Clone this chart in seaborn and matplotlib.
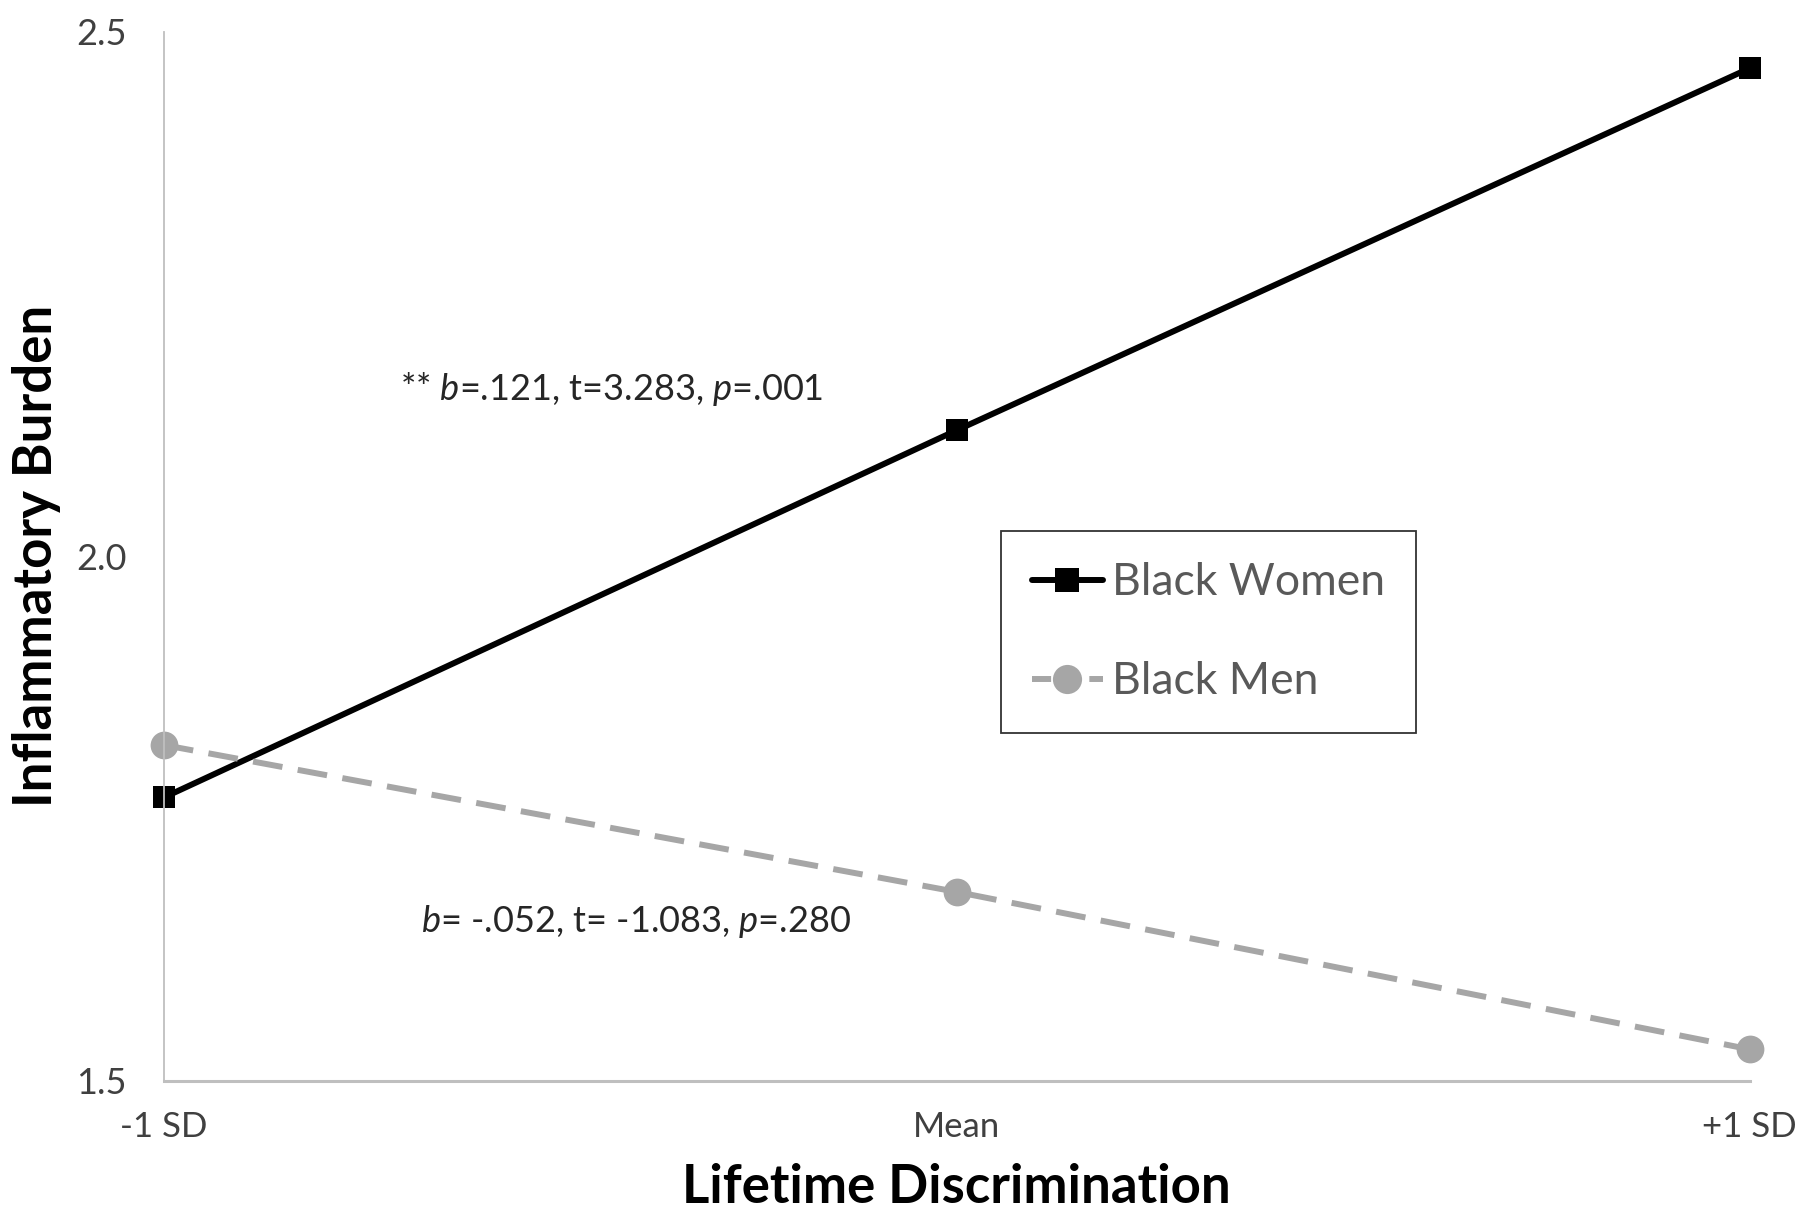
import pandas as pd
import matplotlib
matplotlib.use("Agg")
import matplotlib.pyplot as plt
import seaborn as sns

# values
levels = ["-1 SD", "Mean", "+1 SD"]
women = [1.77, 2.12, 2.465]
men = [1.82, 1.68, 1.53]
groups = ["Black Women", "Black Men"]
y_ticks = [1.5, 2.0, 2.5]

women_note = r"** $b$=.121, t=3.283, $p$=.001"
men_note = r"$b$= -.052, t= -1.083, $p$=.280"


def make_plot():
    df = pd.DataFrame({
        "Level": levels * 2,
        "Burden": women + men,
        "Group": [groups[0]] * 3 + [groups[1]] * 3,
    })

    sns.set_theme(style="white")
    plt.rcParams["font.family"] = ["Lato", "DejaVu Sans"]
    plt.rcParams["mathtext.fontset"] = "custom"
    plt.rcParams["mathtext.it"] = "Lato:italic"
    plt.rcParams["mathtext.rm"] = "Lato"

    fig = plt.figure(figsize=(18, 12.13), dpi=100)
    ax = fig.add_axes([0.091, 0.109, 0.881, 0.865])

    sns.lineplot(
        data=df, x="Level", y="Burden", hue="Group", style="Group",
        hue_order=groups, style_order=groups,
        palette={"Black Women": "black", "Black Men": "#A6A6A6"},
        markers={"Black Women": "s", "Black Men": "o"},
        dashes={"Black Women": "", "Black Men": (5, 2.6)},
        linewidth=4.3, markeredgewidth=0, sort=False, ax=ax,
    )
    sizes = [16, 20]
    for line, ms in zip(ax.lines[:2], sizes):
        line.set_markersize(ms)
        line.set_clip_on(False)

    ax.set_xlim(0, 2)
    ax.set_ylim(1.5, 2.5)
    ax.set_yticks(y_ticks)
    ax.set_yticklabels([f"{v:.1f}" for v in y_ticks])

    for s in ["top", "right"]:
        ax.spines[s].set_visible(False)
    ax.spines["left"].set_color("#BFBFBF")
    ax.spines["left"].set_linewidth(1.3)
    ax.spines["bottom"].set_color("#BFBFBF")
    ax.spines["bottom"].set_linewidth(2.2)

    ax.tick_params(axis="y", length=0, pad=27, labelsize=26, labelcolor="#404040")
    ax.tick_params(axis="x", direction="inout", length=19, width=1.3,
                   color="#BFBFBF", pad=12, labelsize=25, labelcolor="#404040")

    ax.set_xlabel("Lifetime Discrimination", fontsize=38, fontweight="bold",
                  color="black", labelpad=15)
    ax.set_ylabel("Inflammatory Burden", fontsize=38, fontweight="bold",
                  color="black", labelpad=11)

    ax.text(0.2976, 2.159, women_note, fontsize=26, color="#262626",
            va="center", ha="left")
    ax.text(0.325, 1.652, men_note, fontsize=26, color="#262626",
            va="center", ha="left")

    handles, labels = ax.get_legend_handles_labels()
    for h, ms in zip(handles, sizes):
        h.set_markersize(ms + 1)
        h.set_linewidth(4.3)
    handles[1].set_dashes((3.2, 1.6))
    leg = ax.legend(
        handles, labels, loc="upper left",
        bbox_to_anchor=(0.556, 0.562), bbox_transform=fig.transFigure,
        fontsize=32, frameon=True, fancybox=False, borderpad=0.7,
        labelspacing=1.3, handlelength=1.6, handletextpad=0.2,
        borderaxespad=0,
    )
    leg.get_frame().set_edgecolor("black")
    leg.get_frame().set_linewidth(1.3)
    for t in leg.get_texts():
        t.set_color("#595959")

    fig.savefig("out.png", dpi=100)
    plt.close(fig)


if __name__ == "__main__":
    make_plot()
